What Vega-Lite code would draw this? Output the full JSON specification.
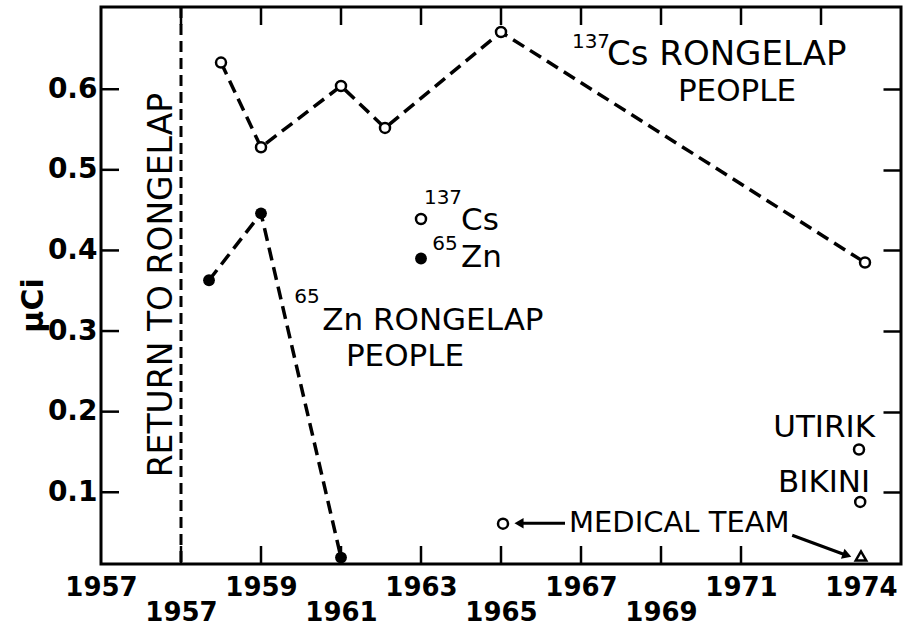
{
  "$schema": "https://vega.github.io/schema/vega-lite/v6.json",
  "width": 800,
  "height": 557,
  "autosize": {"type": "none"},
  "padding": {"left": 101, "top": 7, "right": 4, "bottom": 72},
  "background": "white",
  "config": {
    "font": "DejaVu Sans",
    "view": {"stroke": "black", "strokeWidth": 3},
    "axis": {"grid": false, "domain": false, "tickColor": "black", "tickWidth": 2.5, "labelColor": "black", "labelFont": "DejaVu Sans", "labelFontWeight": "bold", "labelFontSize": 26, "title": null}
  },
  "datasets": {
    "cs": [
      {"year": 1958.0, "uci": 0.633},
      {"year": 1959.0, "uci": 0.528},
      {"year": 1961.0, "uci": 0.604},
      {"year": 1962.1, "uci": 0.552},
      {"year": 1965.0, "uci": 0.671},
      {"year": 1974.1, "uci": 0.385}
    ],
    "zn": [
      {"year": 1957.7, "uci": 0.363},
      {"year": 1959.0, "uci": 0.446},
      {"year": 1961.0, "uci": 0.019}
    ],
    "open": [
      {"year": 1958.0, "uci": 0.633},
      {"year": 1959.0, "uci": 0.528},
      {"year": 1961.0, "uci": 0.604},
      {"year": 1962.1, "uci": 0.552},
      {"year": 1965.0, "uci": 0.671},
      {"year": 1974.1, "uci": 0.385},
      {"year": 1963.0, "uci": 0.439},
      {"year": 1965.05, "uci": 0.061},
      {"year": 1973.95, "uci": 0.153},
      {"year": 1973.98, "uci": 0.088}
    ],
    "filled": [
      {"year": 1957.7, "uci": 0.363},
      {"year": 1959.0, "uci": 0.446},
      {"year": 1961.0, "uci": 0.019},
      {"year": 1963.0, "uci": 0.39}
    ],
    "tri": [{"year": 1974.0, "uci": 0.021}],
    "ticksBottom": [
      {"year": 1957}, {"year": 1959}, {"year": 1961}, {"year": 1963},
      {"year": 1965}, {"year": 1967}, {"year": 1969}, {"year": 1971}
    ],
    "ticksTop": [
      {"year": 1957}, {"year": 1959}, {"year": 1961}, {"year": 1963},
      {"year": 1965}, {"year": 1967}, {"year": 1969}, {"year": 1971}, {"year": 1973}
    ],
    "ticksLeft": [
      {"uci": 0.1}, {"uci": 0.2}, {"uci": 0.3}, {"uci": 0.4}, {"uci": 0.5}, {"uci": 0.6}
    ],
    "bigText": [
      {"year": 1967.65, "uci": 0.643, "text": "Cs RONGELAP"}
    ],
    "leftText": [
      {"year": 1960.53, "uci": 0.312, "text": "Zn RONGELAP"},
      {"year": 1964.0, "uci": 0.437, "text": "Cs"},
      {"year": 1964.0, "uci": 0.39, "text": "Zn"}
    ],
    "medText": [
      {"year": 1966.7, "uci": 0.0615, "text": "MEDICAL TEAM"}
    ],
    "centerText": [
      {"year": 1970.9, "uci": 0.597, "text": "PEOPLE"},
      {"year": 1962.6, "uci": 0.268, "text": "PEOPLE"}
    ],
    "rightText": [
      {"year": 1974.35, "uci": 0.18, "text": "UTIRIK"},
      {"year": 1974.23, "uci": 0.112, "text": "BIKINI"}
    ],
    "supText": [
      {"year": 1967.25, "uci": 0.658, "text": "137"},
      {"year": 1960.15, "uci": 0.342, "text": "65"},
      {"year": 1963.55, "uci": 0.465, "text": "137"},
      {"year": 1963.6, "uci": 0.408, "text": "65"}
    ],
    "vertText": [{"year": 1956.53, "uci": 0.357, "text": "RETURN TO RONGELAP"}],
    "arrows": [
      {"arrow": 1, "year": 1966.6, "uci": 0.0615},
      {"arrow": 1, "year": 1965.5, "uci": 0.0615},
      {"arrow": 2, "year": 1972.28, "uci": 0.0467},
      {"arrow": 2, "year": 1973.6, "uci": 0.0225}
    ],
    "headLeft": [{"year": 1965.45, "uci": 0.0615}],
    "headRight": [{"year": 1973.65, "uci": 0.0218}]
  },
  "resolve": {"axis": {"x": "independent", "y": "independent"}},
  "layer": [
    {
      "data": {"values": [{"year": 1957}]},
      "mark": {"type": "rule", "strokeDash": [11, 6], "strokeWidth": 3, "color": "black"},
      "encoding": {
        "x": {"field": "year", "type": "quantitative", "scale": {"domain": [1955, 1975], "nice": false, "zero": false}, "axis": null}
      }
    },
    {
      "data": {"name": "cs"},
      "mark": {"type": "line", "strokeDash": [13, 7], "strokeWidth": 3.5, "color": "black"},
      "encoding": {
        "x": {"field": "year", "type": "quantitative", "scale": {"domain": [1955, 1975], "nice": false, "zero": false},
              "axis": {"orient": "bottom", "values": [1955, 1957, 1959, 1961, 1963, 1965, 1967, 1969, 1971, 1974], "format": "d", "ticks": false, "labelFlush": false,
                       "labelExpr": "datum.value == 1955 ? '1957' : datum.label",
                       "labelPadding": {"condition": {"test": "datum.value == 1957 || datum.value == 1961 || datum.value == 1965 || datum.value == 1969", "value": 35}, "value": 10}}},
        "y": {"field": "uci", "type": "quantitative", "scale": {"domain": [0.011, 0.702], "nice": false, "zero": false},
              "axis": {"orient": "left", "values": [0.1, 0.2, 0.3, 0.4, 0.5, 0.6], "format": ".1f", "ticks": false, "labelPadding": 4, "labelFontSize": 28, "title": "μCi", "titleFont": "DejaVu Sans", "titleFontSize": 30, "titleFontWeight": "bold", "titleColor": "black", "titleX": -68, "titleY": 298, "titleAngle": -90, "titleAlign": "center", "titleBaseline": "middle"}}
      }
    },
    {
      "data": {"name": "zn"},
      "mark": {"type": "line", "strokeDash": [13, 7], "strokeWidth": 3.5, "color": "black"},
      "encoding": {
        "x": {"field": "year", "type": "quantitative", "scale": {"domain": [1955, 1975], "nice": false, "zero": false}, "axis": null},
        "y": {"field": "uci", "type": "quantitative", "scale": {"domain": [0.011, 0.702], "nice": false, "zero": false},
              "axis": {"orient": "right", "values": [0.1, 0.2, 0.3, 0.4, 0.5, 0.6], "labels": false, "tickSize": 18, "offset": -18}}
      }
    },
    {
      "data": {"name": "ticksBottom"},
      "mark": {"type": "rule", "strokeWidth": 2.5, "color": "black"},
      "encoding": {
        "x": {"field": "year", "type": "quantitative", "axis": null},
        "y": {"datum": 0.011, "type": "quantitative", "axis": null},
        "y2": {"datum": 0.0333}
      }
    },
    {
      "data": {"name": "ticksTop"},
      "mark": {"type": "rule", "strokeWidth": 2.5, "color": "black"},
      "encoding": {
        "x": {"field": "year", "type": "quantitative", "axis": null},
        "y": {"datum": 0.702, "type": "quantitative", "axis": null},
        "y2": {"datum": 0.6797}
      }
    },
    {
      "data": {"name": "ticksLeft"},
      "mark": {"type": "rule", "strokeWidth": 2.5, "color": "black"},
      "encoding": {
        "y": {"field": "uci", "type": "quantitative", "axis": null},
        "x": {"datum": 1955, "type": "quantitative", "axis": null},
        "x2": {"datum": 1955.45}
      }
    },
    {
      "data": {"name": "filled"},
      "mark": {"type": "point", "shape": "circle", "filled": true, "size": 140, "color": "black", "opacity": 1},
      "encoding": {
        "x": {"field": "year", "type": "quantitative", "axis": null},
        "y": {"field": "uci", "type": "quantitative", "axis": null}
      }
    },
    {
      "data": {"name": "open"},
      "mark": {"type": "point", "shape": "circle", "filled": false, "fill": "white", "size": 100, "stroke": "black", "strokeWidth": 2.5, "opacity": 1},
      "encoding": {
        "x": {"field": "year", "type": "quantitative", "axis": null},
        "y": {"field": "uci", "type": "quantitative", "axis": null}
      }
    },
    {
      "data": {"name": "tri"},
      "mark": {"type": "point", "shape": "triangle-up", "filled": false, "fill": "white", "size": 110, "stroke": "black", "strokeWidth": 2.5, "opacity": 1},
      "encoding": {
        "x": {"field": "year", "type": "quantitative", "axis": null},
        "y": {"field": "uci", "type": "quantitative", "axis": null}
      }
    },
    {
      "data": {"name": "arrows"},
      "mark": {"type": "line", "strokeWidth": 3, "color": "black"},
      "encoding": {
        "x": {"field": "year", "type": "quantitative", "axis": null},
        "y": {"field": "uci", "type": "quantitative", "axis": null},
        "detail": {"field": "arrow", "type": "nominal"}
      }
    },
    {
      "data": {"name": "headLeft"},
      "mark": {"type": "point", "shape": "triangle-left", "filled": true, "size": 110, "color": "black", "opacity": 1},
      "encoding": {
        "x": {"field": "year", "type": "quantitative", "axis": null},
        "y": {"field": "uci", "type": "quantitative", "axis": null}
      }
    },
    {
      "data": {"name": "headRight"},
      "mark": {"type": "point", "shape": "triangle-right", "filled": true, "size": 110, "color": "black", "opacity": 1, "angle": 20},
      "encoding": {
        "x": {"field": "year", "type": "quantitative", "axis": null},
        "y": {"field": "uci", "type": "quantitative", "axis": null}
      }
    },
    {
      "data": {"name": "bigText"},
      "mark": {"type": "text", "align": "left", "baseline": "middle", "fontSize": 34, "color": "black"},
      "encoding": {
        "x": {"field": "year", "type": "quantitative", "axis": null},
        "y": {"field": "uci", "type": "quantitative", "axis": null},
        "text": {"field": "text"}
      }
    },
    {
      "data": {"name": "leftText"},
      "mark": {"type": "text", "align": "left", "baseline": "middle", "fontSize": 31, "color": "black"},
      "encoding": {
        "x": {"field": "year", "type": "quantitative", "axis": null},
        "y": {"field": "uci", "type": "quantitative", "axis": null},
        "text": {"field": "text"}
      }
    },
    {
      "data": {"name": "medText"},
      "mark": {"type": "text", "align": "left", "baseline": "middle", "fontSize": 29, "color": "black"},
      "encoding": {
        "x": {"field": "year", "type": "quantitative", "axis": null},
        "y": {"field": "uci", "type": "quantitative", "axis": null},
        "text": {"field": "text"}
      }
    },
    {
      "data": {"name": "centerText"},
      "mark": {"type": "text", "align": "center", "baseline": "middle", "fontSize": 31, "color": "black"},
      "encoding": {
        "x": {"field": "year", "type": "quantitative", "axis": null},
        "y": {"field": "uci", "type": "quantitative", "axis": null},
        "text": {"field": "text"}
      }
    },
    {
      "data": {"name": "rightText"},
      "mark": {"type": "text", "align": "right", "baseline": "middle", "fontSize": 31, "color": "black"},
      "encoding": {
        "x": {"field": "year", "type": "quantitative", "axis": null},
        "y": {"field": "uci", "type": "quantitative", "axis": null},
        "text": {"field": "text"}
      }
    },
    {
      "data": {"name": "supText"},
      "mark": {"type": "text", "align": "center", "baseline": "middle", "fontSize": 20, "color": "black"},
      "encoding": {
        "x": {"field": "year", "type": "quantitative", "axis": null},
        "y": {"field": "uci", "type": "quantitative", "axis": null},
        "text": {"field": "text"}
      }
    },
    {
      "data": {"name": "vertText"},
      "mark": {"type": "text", "align": "center", "baseline": "middle", "fontSize": 33, "angle": 270, "color": "black"},
      "encoding": {
        "x": {"field": "year", "type": "quantitative", "axis": null},
        "y": {"field": "uci", "type": "quantitative", "axis": null},
        "text": {"field": "text"}
      }
    }
  ]
}
